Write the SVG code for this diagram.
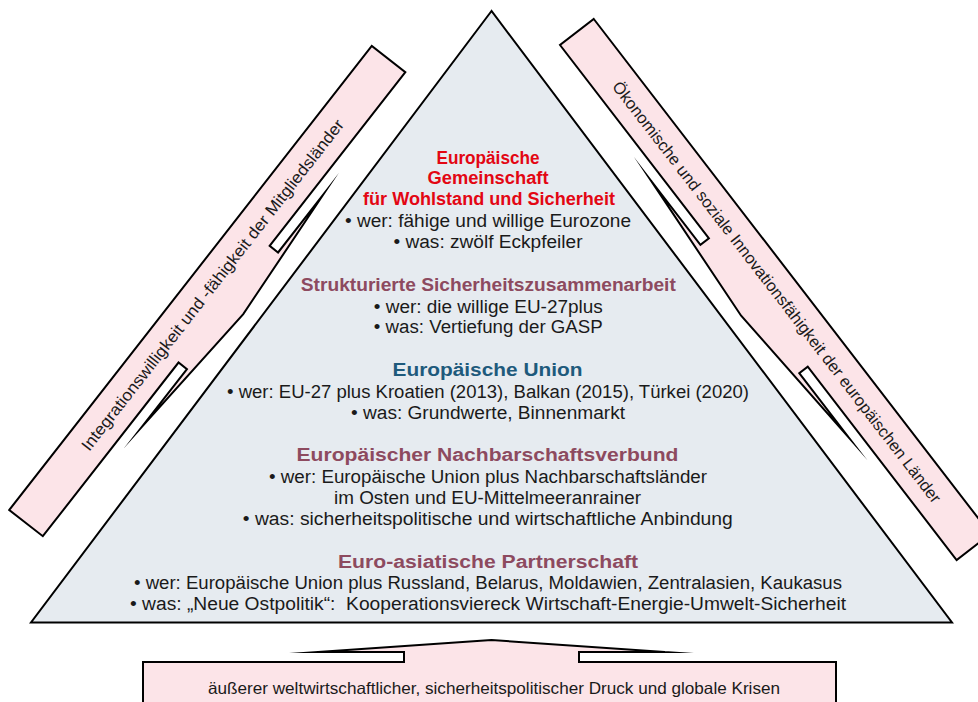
<svg xmlns="http://www.w3.org/2000/svg" width="978" height="702" viewBox="0 0 978 702">
<style>
.bg{fill:#ffffff}
.tri{fill:#e6ebf0;stroke:#000;stroke-width:2;stroke-linejoin:miter}
.band{fill:#fce4e8;stroke:#000;stroke-width:2;stroke-linejoin:miter;stroke-miterlimit:40}
text{font-family:"Liberation Sans","Arial",sans-serif;text-anchor:middle}
.b{font-size:18px;fill:#1a1a1a}
.h{font-size:18px;font-weight:bold}
.red{fill:#e30613}
.wine{fill:#8d4a5f}
.blue{fill:#1e5a7c}
.lab{font-size:16.5px;fill:#1a1a1a}
</style>
<rect class="bg" x="0" y="0" width="978" height="702"/>

<g id="pyramid">
<polygon class="tri" points="491.5,11 31,622.5 952,622.5"/>
<g id="level-ge">
<text class="h red" x="488" y="163.5" textLength="103" lengthAdjust="spacingAndGlyphs">Europäische</text>
<text class="h red" x="488" y="184" textLength="121" lengthAdjust="spacingAndGlyphs">Gemeinschaft</text>
<text class="h red" x="489" y="204.5" textLength="252" lengthAdjust="spacingAndGlyphs">für Wohlstand und Sicherheit</text>
<text class="b" x="488" y="227" textLength="286" lengthAdjust="spacingAndGlyphs">• wer: fähige und willige Eurozone</text>
<text class="b" x="488" y="247.5" textLength="189" lengthAdjust="spacingAndGlyphs">• was: zwölf Eckpfeiler</text>
</g>
<g id="level-ssz">
<text class="h wine" x="488.3" y="291" textLength="375" lengthAdjust="spacingAndGlyphs">Strukturierte Sicherheitszusammenarbeit</text>
<text class="b" x="488.3" y="312.5" textLength="229" lengthAdjust="spacingAndGlyphs">• wer: die willige EU-27plus</text>
<text class="b" x="488.3" y="333" textLength="229" lengthAdjust="spacingAndGlyphs">• was: Vertiefung der GASP</text>
</g>
<g id="level-eu">
<text class="h blue" x="487.5" y="376" textLength="190" lengthAdjust="spacingAndGlyphs">Europäische Union</text>
<text class="b" x="488" y="398" textLength="522" lengthAdjust="spacingAndGlyphs">• wer: EU-27 plus Kroatien (2013), Balkan (2015), Türkei (2020)</text>
<text class="b" x="488" y="419" textLength="274" lengthAdjust="spacingAndGlyphs">• was: Grundwerte, Binnenmarkt</text>
</g>
<g id="level-enb">
<text class="h wine" x="487.5" y="461" textLength="382" lengthAdjust="spacingAndGlyphs">Europäischer Nachbarschaftsverbund</text>
<text class="b" x="488" y="483" textLength="438" lengthAdjust="spacingAndGlyphs">• wer: Europäische Union plus Nachbarschaftsländer</text>
<text class="b" x="487.5" y="504" textLength="307" lengthAdjust="spacingAndGlyphs">im Osten und EU-Mittelmeeranrainer</text>
<text class="b" x="487.8" y="525" textLength="490" lengthAdjust="spacingAndGlyphs">• was: sicherheitspolitische und wirtschaftliche Anbindung</text>
</g>
<g id="level-eap">
<text class="h wine" x="488" y="567.5" textLength="300" lengthAdjust="spacingAndGlyphs">Euro-asiatische Partnerschaft</text>
<text class="b" x="488" y="589" textLength="708" lengthAdjust="spacingAndGlyphs">• wer: Europäische Union plus Russland, Belarus, Moldawien, Zentralasien, Kaukasus</text>
<text class="b" x="488" y="609.5" textLength="716" lengthAdjust="spacingAndGlyphs" xml:space="preserve">• was: „Neue Ostpolitik“:  Kooperationsviereck Wirtschaft-Energie-Umwelt-Sicherheit</text>
</g>
</g>

<g id="left-band" transform="translate(207.3,291.1) rotate(-52)">
<path class="band" d="M-294.4,-21.3 L294.4,-21.3 L294.4,21.3 L74,21.3 L74,32 L147,32 L4,42.5 L-147,32 L-74,32 L-74,21.3 L-294.4,21.3 Z"/>
<text class="lab" x="8" y="6" textLength="415" lengthAdjust="spacingAndGlyphs">Integrationswilligkeit und -fähigkeit der Mitgliedsländer</text>
</g>

<g id="right-band" transform="translate(775.2,289.5) rotate(52.4)">
<path class="band" d="M-325,-21.3 L325,-21.3 L325,21.3 L81,21.3 L81,32 L162,32 L0,43 L-162,32 L-81,32 L-81,21.3 L-325,21.3 Z"/>
<text class="lab" x="3" y="6" textLength="527" lengthAdjust="spacingAndGlyphs">Ökonomische und soziale Innovationsfähigkeit der europäischen Länder</text>
</g>

<g id="bottom-arrow">
<path class="band" d="M143,712 L143,662 L404,662 L404,652 L318,652 L491.5,640 L665,652 L579,652 L579,662 L836,662 L836,712 Z"/>
<text class="lab" x="494" y="694" textLength="572" lengthAdjust="spacingAndGlyphs">äußerer weltwirtschaftlicher, sicherheitspolitischer Druck und globale Krisen</text>
</g>

<g id="connectors"/>
</svg>
